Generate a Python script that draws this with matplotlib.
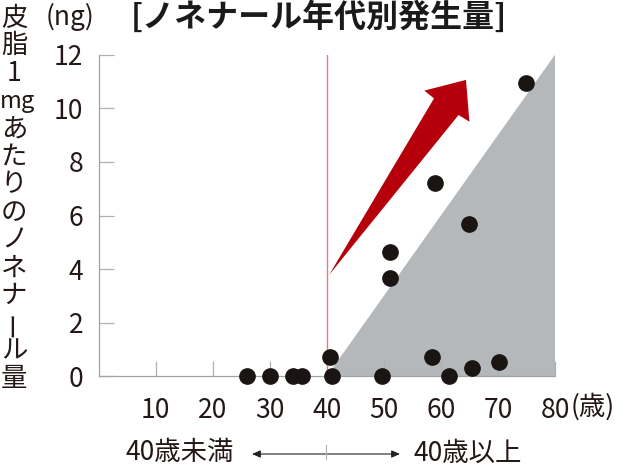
import matplotlib
matplotlib.use("Agg")
import matplotlib.pyplot as plt
from matplotlib.patches import Polygon

plt.rcParams['font.family'] = ['Noto Sans CJK JP', 'DejaVu Sans']

# ---- data ----
ages = [26, 30, 34, 35.6, 40.6, 41.0, 49.6, 51.0, 51.0, 58.5, 59.0, 61.4, 64.9, 65.5, 70.2, 74.9]
nonenal = [0, 0, 0, 0, 0.71, 0, 0, 3.68, 4.64, 0.73, 7.20, 0, 5.67, 0.30, 0.54, 10.93]
x_ticks = [10, 20, 30, 40, 50, 60, 70, 80]
y_ticks = [0, 2, 4, 6, 8, 10, 12]
threshold_age = 40
# shaded trend region (age, ng)
trend_x = [40, 80, 80]
trend_y = [0, 12, 0]
# red trend arrow outline (age, ng)
arrow_x = [40.4, 58.8, 57.1, 64.4, 65.0, 63.1]
arrow_y = [3.78, 10.37, 10.66, 11.06, 9.50, 9.75]
title = "[ノネナール年代別発生量]"
ylabel_chars = ["皮", "脂", "1", "mg", "あ", "た", "り", "の", "ノ", "ネ", "ナ", "ー", "ル", "量"]

W, H = 629, 466
fig = plt.figure(figsize=(W / 100, H / 100), dpi=100)
ax = fig.add_axes([98.5 / W, 1 - 376.3 / H, (555 - 98.5) / W, (376.3 - 54.7) / H])

ax.fill(trend_x, trend_y, color='#b4b8bb', lw=0, zorder=1)
ax.plot([threshold_age, threshold_age], [0, 12], color='#e8787c', lw=1.0, zorder=2)
ax.add_patch(Polygon(list(zip(arrow_x, arrow_y)), closed=True, color='#b5000b', lw=0, zorder=3))
ax.plot(ages, nonenal, 'o', color='#1a1412', markersize=11, clip_on=False, zorder=5)

ax.set_xlim(0, 80)
ax.set_ylim(0, 12)
ax.set_xticks(x_ticks)
ax.set_yticks(y_ticks)
ax.set_xticklabels([str(v) for v in x_ticks])
ax.set_yticklabels([str(v) for v in y_ticks])
for s in ['top', 'right']:
    ax.spines[s].set_visible(False)
for s in ['left', 'bottom']:
    ax.spines[s].set_color('#a3a3a3')
    ax.spines[s].set_linewidth(0.9)
ax.tick_params(axis='both', direction='in', length=11, width=0.9, color='#b0b0b0',
               labelsize=19, labelcolor='#231815')
ax.tick_params(axis='x', pad=15)
ax.tick_params(axis='y', pad=11)
ax.patch.set_visible(False)

def ftext(x, y, s, **kw):
    fig.text(x / W, 1 - y / H, s, **kw)

# title and unit
ftext(131, 18, title, fontsize=23, fontweight='bold', color='#1a1a1a', ha='left', va='center')
ftext(46, 17, "(ng)", fontsize=19, color='#231815', ha='left', va='center')

# vertical y label
n = len(ylabel_chars)
for i, ch in enumerate(ylabel_chars):
    yy = 18 + i * (379 - 18) / (n - 1)
    rot = 90 if ch == "ー" else 0
    fs = 17 if ch == "mg" else 19
    xx = 17 if ch == "mg" else 14
    ftext(xx, yy, ch, fontsize=fs, color='#231815', ha='center', va='center', rotation=rot)

# unit after 80
ftext(571, 407, "(歳)", fontsize=19, color='#231815', ha='left', va='center')

# bottom annotation
ftext(126, 453, "40歳未満", fontsize=19, color='#231815', ha='left', va='center')
ftext(414, 453, "40歳以上", fontsize=19, color='#231815', ha='left', va='center')
ax.annotate('', xy=(400 / W, 1 - 454 / H), xytext=(252 / W, 1 - 454 / H),
            xycoords='figure fraction', textcoords='figure fraction',
            arrowprops=dict(arrowstyle='<|-|>,head_length=0.5,head_width=0.22',
                            color='#222222', lw=0.8, shrinkA=0, shrinkB=0))
fig.add_artist(plt.Line2D([326 / W, 326 / W], [1 - 445 / H, 1 - 459 / H],
                          color='#b0b0b0', lw=0.8))

fig.savefig('out.png', dpi=100)
